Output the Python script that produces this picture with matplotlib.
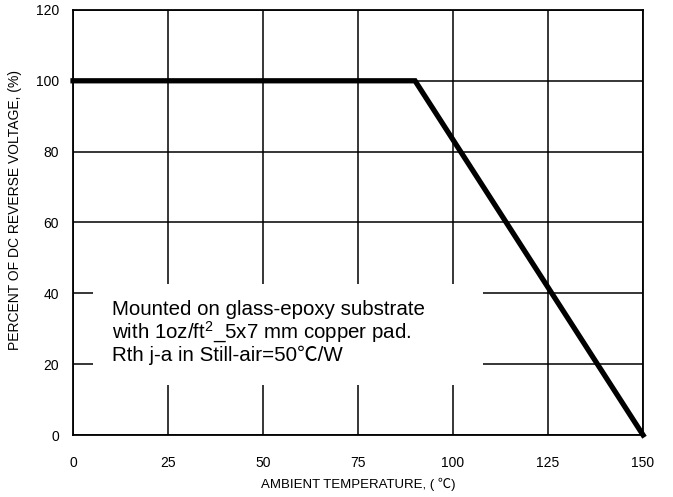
import matplotlib
matplotlib.use("Agg")
import matplotlib.pyplot as plt
from matplotlib.patches import Rectangle

plt.rcParams["font.family"] = ["Liberation Sans", "Noto Sans CJK JP", "DejaVu Sans"]
plt.rcParams["mathtext.fontset"] = "custom"
plt.rcParams["mathtext.rm"] = "Liberation Sans"
plt.rcParams["mathtext.it"] = "Liberation Sans"

# 降額曲線データ
temp = [0, 90, 150]
percent = [100, 100, 0]
x_ticks = [0, 25, 50, 75, 100, 125, 150]
y_ticks = [0, 20, 40, 60, 80, 100, 120]

note = ("Mounted on glass-epoxy substrate\n"
        "with 1oz/ft$^2$_5x7 mm copper pad.\n"
        "Rth j-a in Still-air=50\u2103/W")

fig = plt.figure(figsize=(6.73, 4.97), dpi=100)
ax = fig.add_axes([0.1085, 0.1247, 0.847, 0.8553])

ax.set_xlim(0, 150)
ax.set_ylim(0, 120)
ax.set_xticks(x_ticks)
ax.set_yticks(y_ticks)
ax.tick_params(length=0, labelsize=10, colors="black")
ax.tick_params(axis="x", pad=15)
ax.tick_params(axis="y", pad=10)
ax.set_axisbelow(True)
ax.grid(True, color="black", linewidth=1.1)
for s in ax.spines.values():
    s.set_linewidth(1.3)
    s.set_color("black")

# 注記の白い背景
ax.add_patch(Rectangle((5.3, 14), 102.5, 28.5, facecolor="white",
                       edgecolor="none", zorder=1.5))
ax.text(10.2, 29.0, note, fontsize=14.8, va="center", ha="left",
        linespacing=1.05, zorder=2)

ax.plot(temp, percent, color="black", linewidth=3.8, zorder=3,
        solid_joinstyle="miter", clip_on=False)

ax.set_xlabel("AMBIENT TEMPERATURE, ( \u2103)", fontsize=9.5, labelpad=6)
ax.set_ylabel("PERCENT OF DC REVERSE VOLTAGE, (%)", fontsize=10)
ax.yaxis.set_label_coords(-0.09, 0.53)

fig.savefig("out.png", dpi=100)
